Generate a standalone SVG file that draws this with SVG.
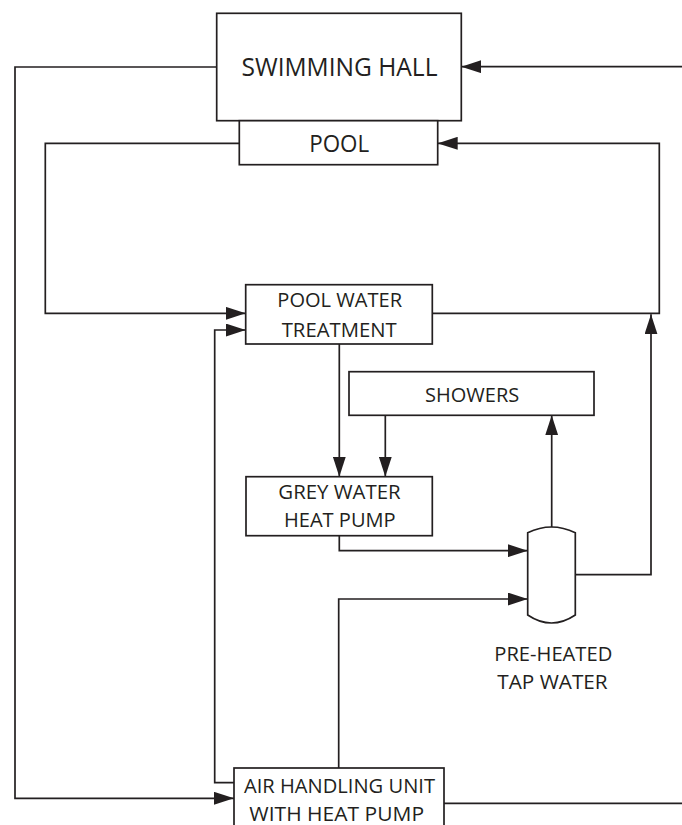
<svg xmlns="http://www.w3.org/2000/svg" width="682" height="825" viewBox="0 0 682 825">
<style>
.box{fill:#fff;stroke:#231f20;stroke-width:1.7}
.ln{fill:none;stroke:#231f20;stroke-width:1.7}
.t{font-family:"Open Sans","Liberation Sans",sans-serif;fill:#231f20;text-anchor:middle}
.s{font-size:20px}
.p{font-size:23px}
.b{font-size:25px}
</style>
<defs>
<marker id="ah" markerUnits="userSpaceOnUse" markerWidth="20" markerHeight="13" refX="20" refY="6.5" orient="auto">
<path d="M0,0 L20,6.5 L0,13 z" fill="#231f20"/>
</marker>
</defs>
<rect width="682" height="825" fill="#fff"/>
<g id="connectors">
<path class="ln" d="M216.7,67 H15 V798.3 H234" marker-end="url(#ah)"/>
<path class="ln" d="M239.3,143.3 H45.3 V313.3 H245.7" marker-end="url(#ah)"/>
<path class="ln" d="M432.3,313.3 H659.3 V143.3 H437.7" marker-end="url(#ah)"/>
<path class="ln" d="M682,66.7 H461.3" marker-end="url(#ah)"/>
<path class="ln" d="M444,803.3 H682"/>
<path class="ln" d="M234,782.7 H214.7 V330 H245.7" marker-end="url(#ah)"/>
<path class="ln" d="M339.3,344 V476.7" marker-end="url(#ah)"/>
<path class="ln" d="M385.3,415.3 V476.7" marker-end="url(#ah)"/>
<path class="ln" d="M339.3,535.7 V550.7 H527.7" marker-end="url(#ah)"/>
<path class="ln" d="M338.7,768 V599 H527.7" marker-end="url(#ah)"/>
<path class="ln" d="M551.7,527 V415.3" marker-end="url(#ah)"/>
<path class="ln" d="M575.3,574.7 H651 V314.3" marker-end="url(#ah)"/>
</g>
<g id="swimming-hall">
<rect class="box" x="216.7" y="13.3" width="244.6" height="107.4"/>
<text class="t b" x="339.5" y="76" textLength="196" lengthAdjust="spacingAndGlyphs">SWIMMING HALL</text>
</g>
<g id="pool">
<rect class="box" x="239.3" y="120.7" width="198.4" height="44"/>
<text class="t p" x="339.2" y="151.7" textLength="60" lengthAdjust="spacingAndGlyphs">POOL</text>
</g>
<g id="pool-water-treatment">
<rect class="box" x="245.7" y="284.7" width="186.6" height="59.3"/>
<text class="t s" x="339.7" y="307.3" textLength="124.7" lengthAdjust="spacingAndGlyphs">POOL WATER</text>
<text class="t s" x="339.2" y="336.7" textLength="115" lengthAdjust="spacingAndGlyphs">TREATMENT</text>
</g>
<g id="showers">
<rect class="box" x="349" y="371.7" width="245" height="43.6"/>
<text class="t s" x="472.2" y="402.3" textLength="94.3" lengthAdjust="spacingAndGlyphs">SHOWERS</text>
</g>
<g id="grey-water-heat-pump">
<rect class="box" x="246" y="476.7" width="186.3" height="59"/>
<text class="t s" x="339.5" y="499.3" textLength="122.4" lengthAdjust="spacingAndGlyphs">GREY WATER</text>
<text class="t s" x="339.8" y="527.3" textLength="111.7" lengthAdjust="spacingAndGlyphs">HEAT PUMP</text>
</g>
<g id="tank">
<path class="box" d="M527.7,532.7 Q551.5,521.3 575.3,532.7 L575.3,615 Q551.5,631 527.7,615 Z"/>
<text class="t s" x="553.3" y="661" textLength="118" lengthAdjust="spacingAndGlyphs">PRE-HEATED</text>
<text class="t s" x="552.5" y="689.3" textLength="110.3" lengthAdjust="spacingAndGlyphs">TAP WATER</text>
</g>
<g id="air-handling-unit">
<rect class="box" x="234" y="768" width="210" height="80"/>
<text class="t s" x="339.5" y="793.3" textLength="191" lengthAdjust="spacingAndGlyphs">AIR HANDLING UNIT</text>
<text class="t s" x="336.7" y="820.5" textLength="174.7" lengthAdjust="spacingAndGlyphs">WITH HEAT PUMP</text>
</g>
</svg>
